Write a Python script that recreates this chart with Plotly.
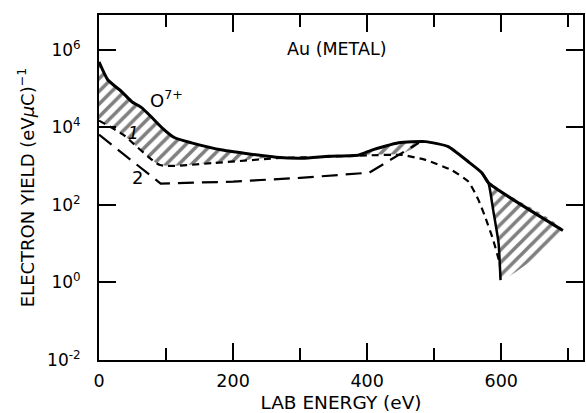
import plotly.graph_objects as go

# O7+ band: upper (solid) boundary
o7_upper_E = [0, 13, 34, 49, 64, 79, 94, 113, 138, 184, 264, 303, 343, 388, 407, 447, 487, 521, 551, 571, 581, 692]
o7_upper_Y = [4.9e5, 1.7e5, 8.3e4, 4.6e4, 3.2e4, 1.8e4, 9.8e3, 5.4e3, 4.0e3, 2.6e3, 1.7e3,
              1.6e3, 1.8e3, 1.95e3, 2.6e3, 4.0e3, 4.3e3, 3.2e3, 1.3e3, 680, 370, 22]

# O7+ band: lower boundary (left to right)
o7_lower_E = [0, 36, 91, 169, 264, 303, 343, 388, 420, 452, 487, 521, 551, 571, 581, 588, 596, 599]
o7_lower_Y = [1.5e4, 6.5e3, 1.07e3, 1.2e3, 1.7e3, 1.6e3, 1.8e3, 1.95e3, 2.0e3, 2.1e3, 4.0e3,
              3.2e3, 1.3e3, 680, 370, 74, 10.5, 1.15]

# curve 1 (short dashes)
curve1_E = [0, 36, 91, 169, 264, 343, 400, 452, 487, 526, 551, 566, 576, 588, 597]
curve1_Y = [1.5e4, 6.5e3, 1.07e3, 1.2e3, 1.6e3, 1.75e3, 1.9e3, 1.95e3, 1.45e3, 790, 400, 135, 49, 12.6, 3.5]

# curve 2 (long dashes)
curve2_E = [0, 92, 200, 300, 403, 458, 477]
curve2_Y = [6.5e3, 355, 400, 500, 680, 2.6e3, 4.0e3]

y_tickvals = [1e-2, 1, 1e2, 1e4, 1e6]
y_ticktext = ["10<sup>-2</sup>", "10<sup>0</sup>", "10<sup>2</sup>", "10<sup>4</sup>", "10<sup>6</sup>"]

FONT = "DejaVu Sans"

fig = go.Figure()

# hatched band polygon
poly_E = o7_upper_E + o7_lower_E[::-1]
poly_Y = o7_upper_Y + o7_lower_Y[::-1]
fig.add_trace(go.Scatter(
    x=poly_E, y=poly_Y, mode="lines", fill="toself",
    line=dict(width=0, color="black", shape="spline", smoothing=0.5),
    fillcolor="rgba(0,0,0,0)",
    fillpattern=dict(shape="/", size=9, solidity=0.4, fgcolor="black", bgcolor="white"),
    hoverinfo="skip", showlegend=False,
))

# curve 1
fig.add_trace(go.Scatter(x=curve1_E, y=curve1_Y, mode="lines",
                         line=dict(color="black", width=2.2, dash="7px,5px", shape="spline", smoothing=0.5),
                         showlegend=False))
# curve 2
fig.add_trace(go.Scatter(x=curve2_E, y=curve2_Y, mode="lines",
                         line=dict(color="black", width=2.2, dash="16px,8px"), showlegend=False))

# solid upper boundary
fig.add_trace(go.Scatter(x=o7_upper_E, y=o7_upper_Y, mode="lines",
                         line=dict(color="black", width=3, shape="spline", smoothing=0.5),
                         showlegend=False))
# solid steep edge of the band near 600 eV
edge_E = [e for e in o7_lower_E if e >= 571]
edge_Y = [y for e, y in zip(o7_lower_E, o7_lower_Y) if e >= 571]
fig.add_trace(go.Scatter(x=edge_E, y=edge_Y, mode="lines",
                         line=dict(color="black", width=2.5, shape="spline", smoothing=0.5),
                         showlegend=False))

fig.add_annotation(x=355, y=6.03, xref="x", yref="y", text="Au (METAL)", showarrow=False,
                   font=dict(family=FONT, size=17.5, color="black"))
fig.add_annotation(x=100, y=4.74, xref="x", yref="y", text="O<sup>7+</sup>", showarrow=False,
                   font=dict(family=FONT, size=18, color="black"))
fig.add_annotation(x=51, y=3.86, xref="x", yref="y", text="<i>1</i>", showarrow=False,
                   font=dict(family=FONT, size=17, color="black"))
fig.add_annotation(x=57, y=2.72, xref="x", yref="y", text="2", showarrow=False,
                   font=dict(family=FONT, size=18, color="black"))

fig.update_layout(
    width=586, height=413,
    margin=dict(l=99, r=1, t=15, b=53),
    paper_bgcolor="white", plot_bgcolor="white",
    font=dict(family=FONT, size=18, color="black"),
    showlegend=False,
)
fig.update_xaxes(
    range=[0, 722], tick0=0, dtick=200, ticks="inside", ticklen=17, tickwidth=2,
    tickcolor="black", showline=True, linewidth=2, linecolor="black", mirror="ticks",
    showgrid=False, zeroline=False, ticklabelstandoff=4,
    tickfont=dict(family=FONT, size=17.5),
    minor=dict(dtick=100, tick0=0, ticks="inside", ticklen=12, tickwidth=2, tickcolor="black", showgrid=False),
    title=dict(text="LAB ENERGY (eV)", font=dict(family=FONT, size=18.5), standoff=6),
)
fig.update_yaxes(
    type="log", range=[-2, 6.9], tickvals=y_tickvals, ticktext=y_ticktext,
    ticks="inside", ticklen=17, tickwidth=2, tickcolor="black",
    showline=True, linewidth=2, linecolor="black", mirror="ticks",
    showgrid=False, zeroline=False, ticklabelstandoff=13,
    tickfont=dict(family=FONT, size=17),
    title=dict(text="ELECTRON YIELD (eV<i>μ</i>C)<sup>−1</sup>", font=dict(family=FONT, size=18), standoff=8),
)

fig.write_html("out.html")
